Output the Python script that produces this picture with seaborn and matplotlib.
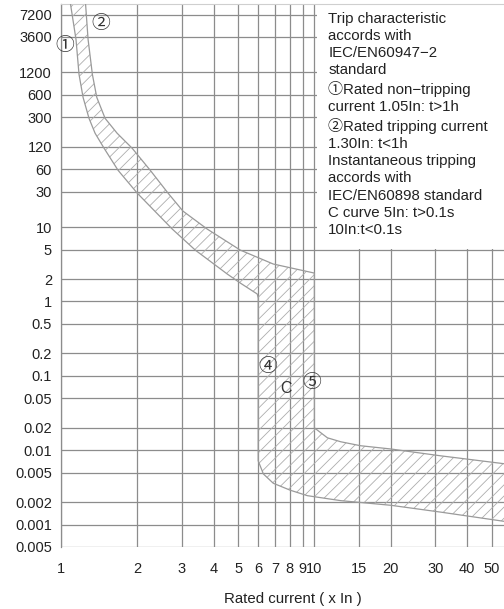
import matplotlib
matplotlib.use("Agg")
import matplotlib.pyplot as plt
import seaborn as sns
import pandas as pd
from matplotlib.patches import Rectangle

# y axis: tripping time (s) and the labels printed on the chart
t_ticks = [7200, 3600, 1200, 600, 300, 120, 60, 30, 10, 5, 2, 1, 0.5, 0.2, 0.1,
           0.05, 0.02, 0.01, 0.005, 0.002, 0.001, 0.0005]
t_labels = ["7200", "3600", "1200", "600", "300", "120", "60", "30", "10", "5", "2", "1",
            "0.5", "0.2", "0.1", "0.05", "0.02", "0.01", "0.005", "0.002", "0.001", "0.005"]
# x axis: multiples of rated current
x_ticks = [1, 2, 3, 4, 5, 6, 7, 8, 9, 10, 15, 20, 30, 40, 50]
x_labels = ["1", "2", "3", "4", "5", "6", "7", "8", "9", "10", "15", "20", "30", "40", "50"]

# lower/left edge of the trip band (non-tripping side)
low_x = [1.09, 1.146, 1.178, 1.222, 1.29, 1.363, 1.479, 1.68, 2.0, 2.75, 3.39, 4.53, 5.1, 5.95, 6.0,
         6.0, 6.29, 6.88, 8.03, 9.38, 12.7, 20.0, 31.6, 60.0]
low_t = [10000, 3340, 1130, 556, 290, 183, 115, 58, 28.6, 9.4, 4.9, 2.34, 1.77, 1.26, 1.11,
         0.0072, 0.0048, 0.0036, 0.0029, 0.00245, 0.0021, 0.00182, 0.00147, 0.00107]

# upper/right edge of the trip band (tripping side)
high_x = [1.25, 1.279, 1.33, 1.384, 1.493, 1.665, 1.909, 2.249, 2.646, 3.03, 3.778, 5.1, 6.88, 10.0,
          10.0, 11.25, 12.7, 15.2, 20.0, 31.6, 60.0]
high_t = [10000, 3340, 1130, 556, 290, 183, 115, 58.2, 28.6, 16.4, 9.4, 4.91, 3.19, 2.41,
          0.020, 0.0147, 0.013, 0.0115, 0.0104, 0.0084, 0.0064]

# circled markers on the chart
marks = ["①", "②", "④", "C", "⑤"]
mark_x = [1.037, 1.43, 6.52, 7.74, 9.73]
mark_t = [2690, 5310, 0.128, 0.067, 0.078]

note = ("Trip characteristic\naccords with\nIEC/EN60947−2\nstandard\n"
        "①Rated non−tripping\ncurrent 1.05In: t>1h\n②Rated tripping current\n"
        "1.30In: t<1h\nInstantaneous tripping\naccords with\nIEC/EN60898 standard\n"
        "C curve 5In: t>0.1s\n10In:t<0.1s")

sns.set_theme(style="white")
plt.rcParams['font.family'] = ['Liberation Sans', 'Noto Sans CJK SC', 'DejaVu Sans']
plt.rcParams['hatch.linewidth'] = 0.6

grid_c = "#8c8c8c"
fig = plt.figure(figsize=(5.04, 6.09), dpi=100)
ax = fig.add_axes([61 / 504, 1 - 547 / 609, 443 / 504, 543 / 609])
ax.set_xscale("log")
ax.set_yscale("log")
ax.set_xlim(1, 56)
ax.set_ylim(0.0005, 10000)

# hatched band
band_x = low_x + high_x[::-1]
band_t = low_t + high_t[::-1]
ax.fill(band_x, band_t, facecolor="none", edgecolor="#adadad", hatch="///", lw=0, zorder=2)
low = pd.DataFrame({"x": low_x, "t": low_t})
high = pd.DataFrame({"x": high_x, "t": high_t})
sns.lineplot(data=low, x="x", y="t", sort=False, estimator=None, color="#9a9a9a", lw=0.9, ax=ax, zorder=3)
sns.lineplot(data=high, x="x", y="t", sort=False, estimator=None, color="#9a9a9a", lw=0.9, ax=ax, zorder=3)

ax.set_xticks(x_ticks)
ax.set_xticklabels(x_labels)
ax.set_yticks(t_ticks)
ax.set_yticklabels(t_labels)
ax.minorticks_off()
ax.tick_params(axis="both", which="major", labelsize=10.5, colors="#222222")
ax.tick_params(axis="x", length=7, pad=4, color=grid_c, width=0.9)
ax.tick_params(axis="y", length=6, pad=0.5, color=grid_c, width=0.9)
ax.set_axisbelow(True)
ax.grid(True, which="major", color=grid_c, lw=0.9)

for s in ["right", "bottom"]:
    ax.spines[s].set_visible(False)
ax.spines["left"].set_color(grid_c)
ax.spines["left"].set_linewidth(0.9)
ax.spines["top"].set_color("#cfcfcf")
ax.spines["top"].set_linewidth(0.8)

# white panel holding the note, covering the grid
ax.add_patch(Rectangle((10.2, 5.15), 200, 20000, facecolor="white", edgecolor="none", zorder=1))
ax.text(0.603, 0.986, note, transform=ax.transAxes, ha="left", va="top",
        fontsize=10.8, linespacing=1.29, color="#222222", zorder=4)

for m, x, t in zip(marks, mark_x, mark_t):
    fs = 11.5 if m == "C" else 13.5
    ax.text(x, t, m, ha="center", va="center", fontsize=fs, color="#333333", zorder=4)

ax.set_xlabel("Rated current ( x In )", fontsize=10.8, color="#222222")
ax.xaxis.set_label_coords((293 - 61) / 443, -0.095)
ax.xaxis.label.set_va("center")
ax.set_ylabel("")

fig.savefig("out.png", dpi=100, facecolor="white")
